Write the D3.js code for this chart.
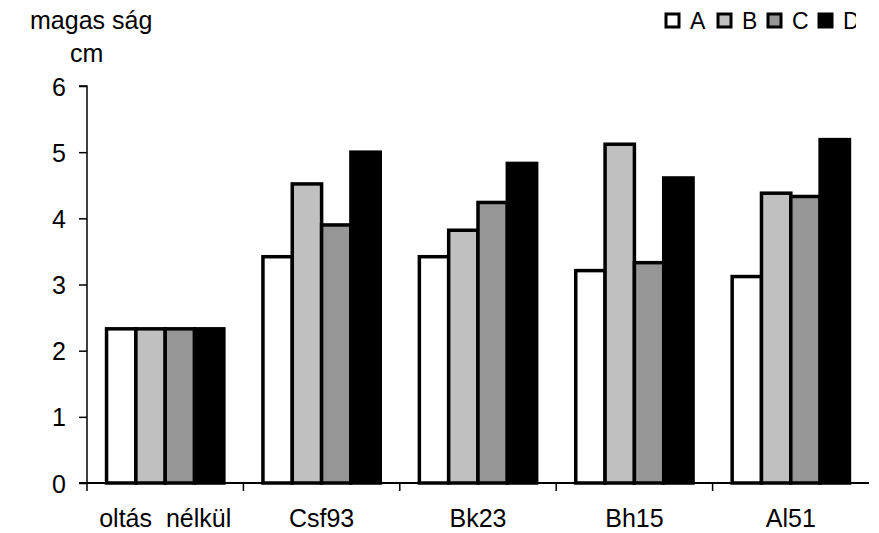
<!DOCTYPE html>
<html><head><meta charset="utf-8">
<script src="https://cdn.jsdelivr.net/npm/d3@7"></script>
<style>body{margin:0;background:#fff}text{font-family:"Liberation Sans",Arial,sans-serif;fill:#000;white-space:pre}</style>
</head><body><svg id="c" width="879" height="533"></svg>
<script>
const categories = ["oltás  nélkül", "Csf93", "Bk23", "Bh15", "Al51"];
const seriesNames = ["A", "B", "C", "D"];
const seriesA = [2.33, 3.42, 3.42, 3.21, 3.12];
const seriesB = [2.33, 4.52, 3.82, 5.12, 4.38];
const seriesC = [2.33, 3.9, 4.24, 3.33, 4.33];
const seriesD = [2.33, 5.0, 4.83, 4.61, 5.19];
const yTicks = [0, 1, 2, 3, 4, 5, 6];
const colors = ["#ffffff", "#c0c0c0", "#969696", "#000000"];

const series = [seriesA, seriesB, seriesC, seriesD];
const svg = d3.select("#c");
const x0 = d3.scaleBand().domain(categories).range([87, 869]).padding(0);
const x1 = d3.scaleBand().domain(seriesNames).range([x0.bandwidth()*0.125, x0.bandwidth()*0.875]).padding(0);
const y = d3.scaleLinear().domain([0, 6]).range([483, 86]);

// bars
categories.forEach((c, i) => {
  const g = svg.append("g").attr("transform", `translate(${x0(c)},0)`);
  seriesNames.forEach((s, j) => {
    g.append("rect")
      .attr("x", x1(s)).attr("width", x1.bandwidth())
      .attr("y", y(series[j][i])).attr("height", y(0) - y(series[j][i]))
      .attr("fill", colors[j]).attr("stroke", "#000").attr("stroke-width", 3.5);
  });
});

// y axis
const ya = svg.append("g").attr("transform", "translate(87,0)")
  .call(d3.axisLeft(y).tickValues(yTicks).tickSize(8).tickPadding(13).tickFormat(d3.format("d")));
ya.select(".domain").attr("stroke", "#000").attr("stroke-width", 1.5).attr("d", "M-8,86H0V483");
ya.selectAll(".tick line").attr("stroke", "#000").attr("stroke-width", 1.5);
ya.selectAll(".tick text").attr("font-size", 25).attr("font-family", "Liberation Sans, Arial, sans-serif").attr("dy", "0.36em");

// x axis
const xa = svg.append("g").attr("transform", "translate(0,483)")
  .call(d3.axisBottom(x0).tickSize(0).tickPadding(44));
xa.select(".domain").attr("stroke", "#000").attr("stroke-width", 2).attr("d", "M79,0H869");
xa.selectAll(".tick text").attr("font-size", 25).attr("font-family", "Liberation Sans, Arial, sans-serif").attr("dy", "0");
svg.append("g").selectAll("line").data(categories).join("line")
  .attr("x1", d => x0(d)).attr("x2", d => x0(d)).attr("y1", 483).attr("y2", 491)
  .attr("stroke", "#000").attr("stroke-width", 1.5);

// title
svg.append("text").attr("x", 30).attr("y", 29).attr("font-size", 25).text("magas ság");
svg.append("text").attr("x", 70).attr("y", 62).attr("font-size", 25).text("cm");

// legend
svg.append("clipPath").attr("id", "lc").append("rect").attr("x", 600).attr("y", 0).attr("width", 256).attr("height", 60);
const lg = svg.append("g").attr("clip-path", "url(#lc)");
const legX = [666, 718, 768, 819];
seriesNames.forEach((s, j) => {
  lg.append("rect").attr("x", legX[j]).attr("y", 14).attr("width", 13).attr("height", 13)
    .attr("fill", colors[j]).attr("stroke", "#000").attr("stroke-width", 3);
  lg.append("text").attr("x", legX[j] + 24).attr("y", 29).attr("font-size", 23).text(s);
});
</script></body></html>
